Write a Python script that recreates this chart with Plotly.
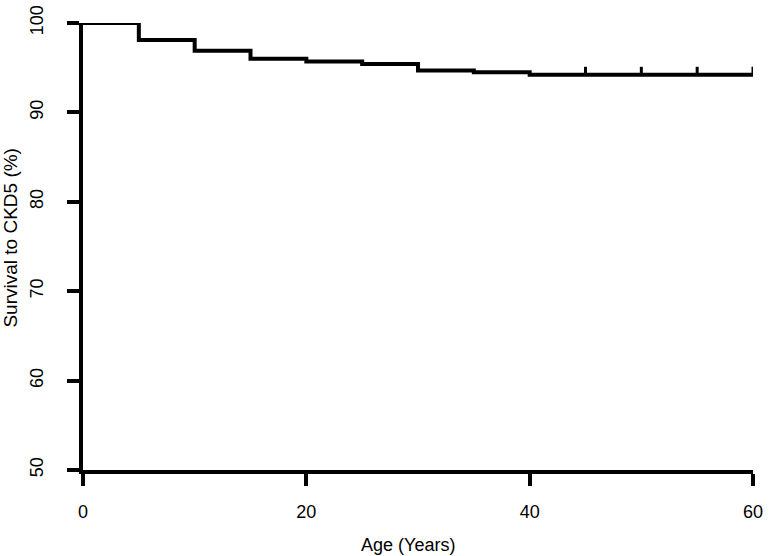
import plotly.graph_objects as go

# Kaplan-Meier step data (age in years, survival %)
event_ages = [0, 5, 10, 15, 20, 25, 30, 35, 40, 60]
survival = [100, 98.1, 96.9, 96.0, 95.7, 95.4, 94.7, 94.5, 94.2, 94.2]
censor_ages = [45, 50, 55, 60]
censor_level = 94.2

x_ticks = [0, 20, 40, 60]
y_ticks = [50, 60, 70, 80, 90, 100]
x_title = "Age (Years)"
y_title = "Survival to CKD5 (%)"

FONT = "Liberation Sans, Arial, sans-serif"

fig = go.Figure()
fig.add_trace(go.Scatter(
    x=event_ages, y=survival, mode="lines",
    line=dict(color="black", width=4, shape="hv"),
    showlegend=False, hoverinfo="skip",
))

# censor tick marks (short vertical segments above the curve)
cx, cy = [], []
for a in censor_ages:
    cx += [a, a, None]
    cy += [censor_level, censor_level + 0.9, None]
fig.add_trace(go.Scatter(
    x=cx, y=cy, mode="lines",
    line=dict(color="black", width=3),
    showlegend=False, hoverinfo="skip",
))

fig.update_layout(
    width=773, height=556,
    autosize=False,
    margin=dict(l=83, r=20, t=23, b=86, autoexpand=False),
    paper_bgcolor="white", plot_bgcolor="white",
    font=dict(family=FONT, size=18, color="black"),
)
fig.update_xaxes(
    range=[0, 60], tickvals=x_ticks, ticktext=[str(v) for v in x_ticks],
    showgrid=False, zeroline=False, automargin=False,
    showline=True, linecolor="black", linewidth=4,
    ticks="outside", ticklen=12, tickwidth=4, tickcolor="black",
    ticklabelstandoff=10, ticklabeloverflow="allow",
)
fig.update_yaxes(
    range=[50, 100], tickvals=y_ticks, ticktext=[str(v) for v in y_ticks],
    showgrid=False, zeroline=False, automargin=False,
    showline=True, linecolor="black", linewidth=4,
    ticks="outside", ticklen=12, tickwidth=4, tickcolor="black",
    tickangle=-90, ticklabelstandoff=17, ticklabeloverflow="allow",
)

fig.add_annotation(
    text=x_title, xref="paper", yref="paper", x=0.485, y=0,
    xanchor="center", yanchor="middle", yshift=-75, showarrow=False,
    font=dict(family=FONT, size=18, color="black"),
)
fig.add_annotation(
    text=y_title, xref="paper", yref="paper", x=0, y=0.52,
    xanchor="center", yanchor="middle", xshift=-72, textangle=-90,
    showarrow=False, font=dict(family=FONT, size=19, color="black"),
)

fig.write_html(
    "out.html",
    config={"displayModeBar": False, "staticPlot": True},
    post_script="document.body.style.margin='0px';",
)
